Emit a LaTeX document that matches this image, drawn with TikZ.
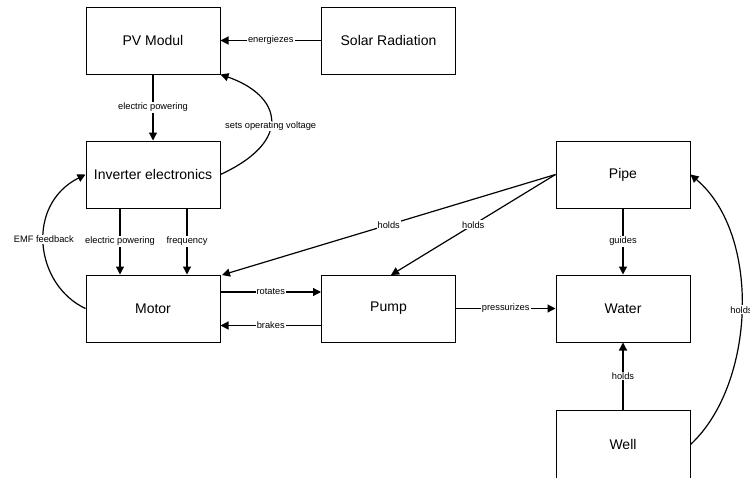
\documentclass[tikz,border=0pt]{standalone}
\usepackage{fontspec}
\setmainfont{Liberation Sans}
\usetikzlibrary{arrows.meta}
\tikzset{
  box/.style={draw, line width=1pt, minimum width=134pt, minimum height=67pt, inner sep=0pt, font=\fontsize{14}{16}\selectfont},
  lab/.style={fill=white, inner sep=1pt, font=\fontsize{9.3}{11}\selectfont},
  arr/.style={-{Triangle[length=8pt,width=8pt]}, line width=1.2pt}
}
\begin{document}
\begin{tikzpicture}[x=1pt,y=-1pt]
\useasboundingbox (0,0) rectangle (750,477);
\clip (0,0) rectangle (750,477);
\fill[white] (0,0) rectangle (750,477);
\node[box] (pv) at (153,40.5) {PV Modul};
\node[box] (solar) at (388.5,40.5) {Solar Radiation};
\node[box] (inv) at (153,174.5) {Inverter electronics};
\node[box] (motor) at (153,308.5) {Motor};
\node[box] (pump) at (388.5,308.5) {Pump};
\node[box] (water) at (623,308.5) {Water};
\node[box] (pipe) at (623,174.5) {Pipe};
\node[box, minimum height=69pt] (well) at (623,444.5) {Well};
\coordinate (motorTR) at (222,275);
\coordinate (pumpTop) at (391,275);
% edges
\draw[arr] (solar.west) -- node[lab] {energiezes} (pv.east);
\draw[arr] (pv.south) -- node[lab] {electric powering} (inv.north);
\draw[arr] (inv.east) .. controls (295,140) and (280,95) .. node[lab, pos=0.44] {sets operating voltage} (pv.south east);
\draw[arr] (motor.west) .. controls (35,285) and (25,205) .. node[lab, pos=0.53] {EMF feedback} (inv.west);
\draw[arr] ([xshift=-33pt]inv.south) -- node[lab] {electric powering} ([xshift=-33pt]motor.north);
\draw[arr] ([xshift=34pt]inv.south) -- node[lab] {frequency} ([xshift=34pt]motor.north);
\draw[arr] (pipe.west) -- node[lab] {holds} (motorTR);
\draw[arr] (pipe.west) -- node[lab] {holds} (pumpTop);
\draw[arr] ([yshift=16.5pt]motor.east) -- node[lab] {rotates} ([yshift=16.5pt]pump.west);
\draw[arr] ([yshift=-17pt]pump.west) -- node[lab] {brakes} ([yshift=-17pt]motor.east);
\draw[arr] (pump.east) -- node[lab] {pressurizes} (water.west);
\draw[arr] (pipe.south) -- node[lab] {guides} (water.north);
\draw[arr] (well.north) -- node[lab] {holds} (water.south);
\draw[arr] (well.east) .. controls (755,385) and (762,235) .. node[lab] {holds} (pipe.east);
\end{tikzpicture}
\end{document}
